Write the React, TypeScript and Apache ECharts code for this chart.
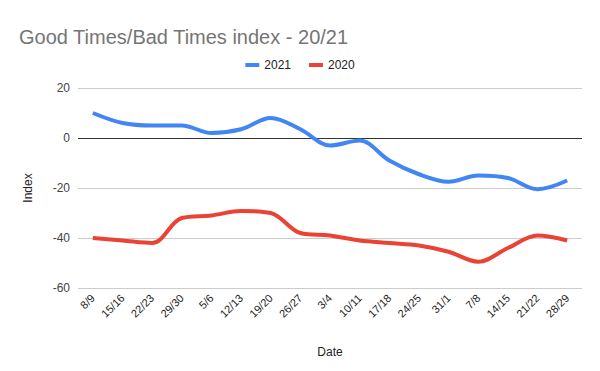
import React, { useEffect, useRef } from "react";
import * as echarts from "echarts";

const categories = ["8/9", "15/16", "22/23", "29/30", "5/6", "12/13", "19/20", "26/27", "3/4", "10/11", "17/18", "24/25", "31/1", "7/8", "14/15", "21/22", "28/29"];
const series2021 = [10, 6, 5, 5, 2, 3.5, 8, 3.5, -3, -1, -9, -14.5, -17.5, -15, -16, -20.5, -17];
const series2020 = [-40, -41, -42, -32, -31, -29.2, -30, -38, -39, -41, -42, -43, -45.5, -49.5, -44, -39, -41];
const yTicks = { min: -60, max: 20, interval: 20 };

export default function App() {
  const ref = useRef<HTMLDivElement>(null);
  useEffect(() => {
    const chart = echarts.init(ref.current!, null, { renderer: "svg" });
    const font = "Liberation Sans, Arial, sans-serif";
    chart.setOption({
      animation: false,
      textStyle: { fontFamily: font },
      title: {
        text: "Good Times/Bad Times index - 20/21",
        left: 14,
        top: 22,
        textStyle: { fontSize: 20, fontWeight: "normal", color: "#757575", fontFamily: font },
      },
      legend: {
        top: 54,
        left: "center",
        itemWidth: 14,
        itemHeight: 4,
        itemGap: 18,
        icon: "rect",
        textStyle: { fontSize: 12, color: "#222", fontFamily: font },
        data: ["2021", "2020"],
      },
      grid: { left: 78, right: 18, top: 88, bottom: 83 },
      xAxis: {
        type: "category",
        data: categories,
        boundaryGap: true,
        name: "Date",
        nameLocation: "middle",
        nameGap: 58,
        nameTextStyle: { fontSize: 12, color: "#222", fontFamily: font },
        axisLine: { show: false },
        axisTick: { show: false },
        axisLabel: { rotate: 45, fontSize: 11, color: "#222", interval: 0, margin: 8, fontFamily: font },
      },
      yAxis: {
        type: "value",
        min: yTicks.min,
        max: yTicks.max,
        interval: yTicks.interval,
        name: "Index",
        nameLocation: "middle",
        nameGap: 44,
        nameRotate: 90,
        nameTextStyle: { fontSize: 12, color: "#222", fontFamily: font },
        axisLine: { show: false },
        axisTick: { show: false },
        axisLabel: { fontSize: 12, color: "#444", margin: 8, fontFamily: font },
        splitLine: { lineStyle: { color: "#cccccc", width: 1 } },
      },
      series: [
        {
          name: "2021",
          type: "line",
          data: series2021,
          smooth: 0.35,
          showSymbol: false,
          lineStyle: { width: 4, color: "#4285F4" },
          itemStyle: { color: "#4285F4" },
          z: 3,
          markLine: {
            silent: true,
            symbol: "none",
            label: { show: false },
            lineStyle: { color: "#333", width: 1, type: "solid" },
            data: [{ yAxis: 0 }],
            z: 1,
          },
        },
        {
          name: "2020",
          type: "line",
          data: series2020,
          smooth: 0.35,
          showSymbol: false,
          lineStyle: { width: 4, color: "#EA4335" },
          itemStyle: { color: "#EA4335" },
          z: 3,
        },
      ],
    });
    return () => chart.dispose();
  }, []);
  return <div ref={ref} style={{ width: 600, height: 371, position: "absolute", left: 0, top: 0, background: "#fff" }} />;
}
